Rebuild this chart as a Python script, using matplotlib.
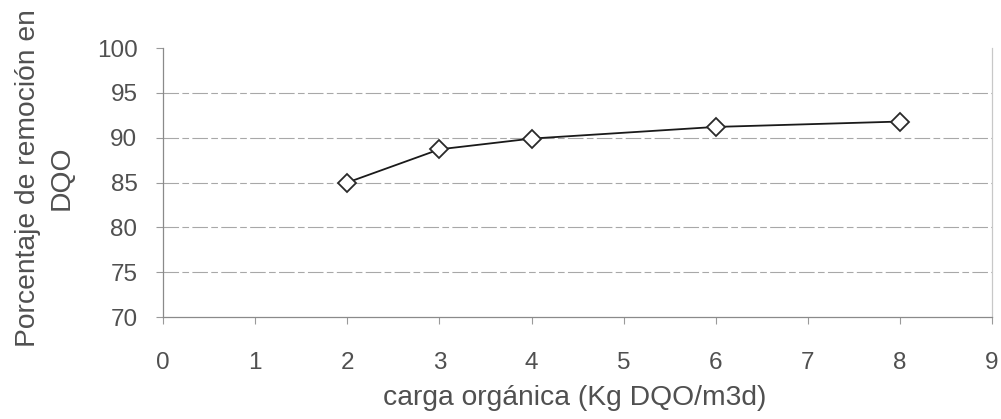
import matplotlib
matplotlib.use("Agg")
import matplotlib.pyplot as plt

carga = [2, 3, 4, 6, 8]
remocion = [85.0, 88.7, 89.9, 91.2, 91.8]
xticks = [0, 1, 2, 3, 4, 5, 6, 7, 8, 9]
yticks = [70, 75, 80, 85, 90, 95, 100]

plt.rcParams['font.family'] = ['Liberation Sans', 'DejaVu Sans']

fig = plt.figure(figsize=(10.01, 4.19), dpi=100)
ax = fig.add_axes([0.163, 0.2434, 0.828, 0.642])

for y in yticks[1:-1]:
    ax.axhline(y, color='#a8a8a8', lw=0.8, dashes=(14, 3, 6, 3), zorder=1)

ax.plot(carga, remocion, color='#1a1a1a', lw=1.3, marker='D', markersize=9,
        markerfacecolor='white', markeredgecolor='#2a2a2a', markeredgewidth=1.3, zorder=3)

ax.set_xlim(0, 9)
ax.set_ylim(70, 100)
ax.set_xticks(xticks)
ax.set_yticks(yticks)
ax.tick_params(axis='both', labelsize=17.5, colors='#9a9a9a', labelcolor='#505050',
               length=5, width=0.8)
ax.tick_params(axis='x', pad=20)
ax.tick_params(axis='y', pad=13.5)

ax.spines['top'].set_visible(False)
ax.spines['right'].set_color('#c8c8c8')
ax.spines['left'].set_color('#8a8a8a')
ax.spines['bottom'].set_color('#8a8a8a')
for s in ax.spines.values():
    s.set_linewidth(0.9)

ax.set_xlabel('carga orgánica (Kg DQO/m3d)', fontsize=20.3, color='#505050')
ax.xaxis.set_label_coords(0.497, -0.301)
ax.xaxis.label.set_va('center')

ax.set_ylabel('Porcentaje de remoción en\nDQO', fontsize=20.3, color='#505050',
              linespacing=1.4)
ax.yaxis.set_label_coords(-0.1425, 0.517)
ax.yaxis.label.set_va('center')
ax.yaxis.label.set_ha('center')
ax.yaxis.label.set_rotation_mode('default')

fig.savefig('out.png', dpi=100, facecolor='white')
